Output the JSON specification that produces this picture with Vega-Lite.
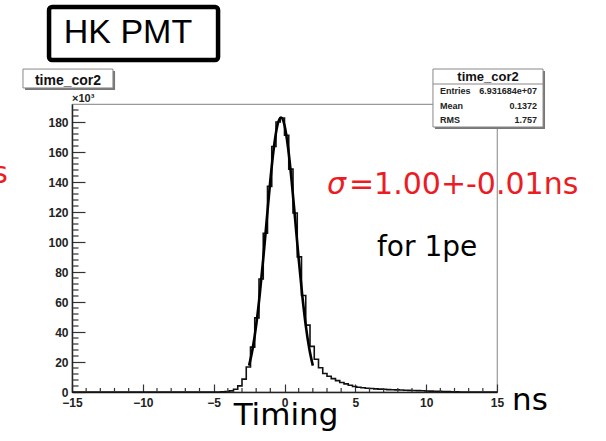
{
  "$schema": "https://vega.github.io/schema/vega-lite/v6.json",
  "width": 425,
  "height": 288,
  "autosize": "none",
  "padding": {"left": 72, "top": 104, "right": 109, "bottom": 49},
  "background": "white",
  "config": {
    "view": {"stroke": "#999", "strokeWidth": 1.2},
    "axis": {"labelOverlap": false, "labelFlush": false, "labelBound": false, "grid": false, "title": null}
  },
  "datasets": {
    "hist": [
      {"x": -15, "y": 0}, {"x": -14.85, "y": 0}, {"x": -14.55, "y": 0}, {"x": -14.25, "y": 0}, {"x": -13.95, "y": 0}, {"x": -13.65, "y": 0},
      {"x": -13.35, "y": 0}, {"x": -13.05, "y": 0}, {"x": -12.75, "y": 0}, {"x": -12.45, "y": 0}, {"x": -12.15, "y": 0},
      {"x": -11.85, "y": 0}, {"x": -11.55, "y": 0}, {"x": -11.25, "y": 0}, {"x": -10.95, "y": 0}, {"x": -10.65, "y": 0},
      {"x": -10.35, "y": 0}, {"x": -10.05, "y": 0}, {"x": -9.75, "y": 0}, {"x": -9.45, "y": 0}, {"x": -9.15, "y": 0},
      {"x": -8.85, "y": 0}, {"x": -8.55, "y": 0}, {"x": -8.25, "y": 0}, {"x": -7.95, "y": 0}, {"x": -7.65, "y": 0},
      {"x": -7.35, "y": 0}, {"x": -7.05, "y": 0}, {"x": -6.75, "y": 0}, {"x": -6.45, "y": 0}, {"x": -6.15, "y": 0},
      {"x": -5.85, "y": 0}, {"x": -5.55, "y": 0}, {"x": -5.25, "y": 0.01}, {"x": -4.95, "y": 0.02}, {"x": -4.65, "y": 0.05},
      {"x": -4.35, "y": 0.1}, {"x": -4.05, "y": 0.3}, {"x": -3.75, "y": 0.75}, {"x": -3.45, "y": 1.8}, {"x": -3.15, "y": 4.1},
      {"x": -2.85, "y": 8.6}, {"x": -2.55, "y": 16.7}, {"x": -2.25, "y": 29.9}, {"x": -1.95, "y": 49.4}, {"x": -1.65, "y": 75.3},
      {"x": -1.35, "y": 105.8}, {"x": -1.05, "y": 137.1}, {"x": -0.75, "y": 163.7}, {"x": -0.45, "y": 180.0}, {"x": -0.15, "y": 182.7},
      {"x": 0.15, "y": 171.2}, {"x": 0.45, "y": 148.6}, {"x": 0.75, "y": 119.3}, {"x": 1.05, "y": 90.1}, {"x": 1.35, "y": 64.3},
      {"x": 1.65, "y": 44.6}, {"x": 1.95, "y": 30.4}, {"x": 2.25, "y": 21.8}, {"x": 2.55, "y": 16.2}, {"x": 2.85, "y": 12.3},
      {"x": 3.15, "y": 10.5}, {"x": 3.45, "y": 8.9}, {"x": 3.75, "y": 7.6}, {"x": 4.05, "y": 6.3}, {"x": 4.35, "y": 5.4},
      {"x": 4.65, "y": 4.5}, {"x": 4.95, "y": 3.7}, {"x": 5.25, "y": 3.2}, {"x": 5.55, "y": 2.8}, {"x": 5.85, "y": 2.5},
      {"x": 6.15, "y": 2.3}, {"x": 6.45, "y": 2.1}, {"x": 6.75, "y": 1.9}, {"x": 7.05, "y": 1.8}, {"x": 7.35, "y": 1.6},
      {"x": 7.65, "y": 1.5}, {"x": 7.95, "y": 1.4}, {"x": 8.25, "y": 1.3}, {"x": 8.55, "y": 1.2}, {"x": 8.85, "y": 1.1},
      {"x": 9.15, "y": 1.0}, {"x": 9.45, "y": 0.9}, {"x": 9.75, "y": 0.8}, {"x": 10.05, "y": 0.7}, {"x": 10.35, "y": 0.6},
      {"x": 10.65, "y": 0.5}, {"x": 10.95, "y": 0.4}, {"x": 11.25, "y": 0.3}, {"x": 11.55, "y": 0.25}, {"x": 11.85, "y": 0.2},
      {"x": 12.15, "y": 0.1}, {"x": 12.45, "y": 0.05}, {"x": 12.75, "y": 0}, {"x": 13.05, "y": 0}, {"x": 13.35, "y": 0},
      {"x": 13.65, "y": 0}, {"x": 13.95, "y": 0}, {"x": 14.25, "y": 0}, {"x": 14.55, "y": 0}, {"x": 14.85, "y": 0}, {"x": 15, "y": 0}
    ],
    "fit": [
      {"x": -2.5, "y": 17.6}, {"x": -2.25, "y": 28.8}, {"x": -2.0, "y": 44.4}, {"x": -1.75, "y": 64.7},
      {"x": -1.5, "y": 88.9}, {"x": -1.25, "y": 115.2}, {"x": -1.0, "y": 141.1}, {"x": -0.75, "y": 163.0}, {"x": -0.5, "y": 177.8},
      {"x": -0.25, "y": 183.0}, {"x": 0.0, "y": 177.8}, {"x": 0.25, "y": 163.0}, {"x": 0.5, "y": 141.1}, {"x": 0.75, "y": 115.2},
      {"x": 1.0, "y": 88.9}, {"x": 1.25, "y": 64.7}, {"x": 1.5, "y": 44.4}, {"x": 1.75, "y": 28.8}, {"x": 2.0, "y": 17.6}
    ],
    "xminor": [
      {"v": -14}, {"v": -13}, {"v": -12}, {"v": -11}, {"v": -9}, {"v": -8}, {"v": -7}, {"v": -6},
      {"v": -4}, {"v": -3}, {"v": -2}, {"v": -1}, {"v": 1}, {"v": 2}, {"v": 3}, {"v": 4},
      {"v": 6}, {"v": 7}, {"v": 8}, {"v": 9}, {"v": 11}, {"v": 12}, {"v": 13}, {"v": 14}
    ],
    "yminor": [
      {"v": 4}, {"v": 8}, {"v": 12}, {"v": 16}, {"v": 24}, {"v": 28}, {"v": 32}, {"v": 36},
      {"v": 44}, {"v": 48}, {"v": 52}, {"v": 56}, {"v": 64}, {"v": 68}, {"v": 72}, {"v": 76},
      {"v": 84}, {"v": 88}, {"v": 92}, {"v": 96}, {"v": 104}, {"v": 108}, {"v": 112}, {"v": 116},
      {"v": 124}, {"v": 128}, {"v": 132}, {"v": 136}, {"v": 144}, {"v": 148}, {"v": 152}, {"v": 156},
      {"v": 164}, {"v": 168}, {"v": 172}, {"v": 176}, {"v": 184}, {"v": 188}
    ]
  },
  "layer": [
    {
      "data": {"name": "hist"},
      "mark": {"type": "line", "interpolate": "step", "color": "#111", "strokeWidth": 1.6, "clip": false},
      "encoding": {
        "x": {
          "field": "x", "type": "quantitative",
          "scale": {"domain": [-15, 15], "nice": false, "zero": false},
          "axis": {
            "title": null, "grid": false,
            "values": [-15,-10,-5,0,5,10,15], "tickCount": 40,
            "labelFont": "Liberation Sans", "labelFontWeight": "bold", "labelFontSize": 12, "labelColor": "#222",
            "labelPadding": 13, "labelFlush": false, "labelOverlap": false,
            "tickColor": "#333", "tickWidth": 1.2, "tickSize": -8,
            "domainColor": "#222", "domainWidth": 1.5
          }
        },
        "y": {
          "field": "y", "type": "quantitative",
          "scale": {"domain": [0, 192], "nice": false, "zero": true},
          "axis": {
            "title": null, "grid": false,
            "values": [0,20,40,60,80,100,120,140,160,180], "tickCount": 40,
            "labelFont": "Liberation Sans", "labelFontWeight": "bold", "labelFontSize": 12, "labelColor": "#222",
            "labelPadding": 17, "labelFlush": false, "labelOverlap": false,
            "tickColor": "#333", "tickWidth": 1.2, "tickSize": -13,
            "domainColor": "#222", "domainWidth": 1.5
          }
        }
      }
    },
    {
      "data": {"name": "xminor"},
      "mark": {"type": "rule", "stroke": "#333", "strokeWidth": 1.2, "clip": false},
      "encoding": {
        "x": {"field": "v", "type": "quantitative"},
        "y": {"datum": 0, "type": "quantitative"}, "y2": {"datum": 2.7}
      }
    },
    {
      "data": {"name": "yminor"},
      "mark": {"type": "rule", "stroke": "#333", "strokeWidth": 1.2, "clip": false},
      "encoding": {
        "y": {"field": "v", "type": "quantitative"},
        "x": {"datum": -15, "type": "quantitative"}, "x2": {"datum": -14.54}
      }
    },
    {
      "data": {"name": "fit"},
      "mark": {"type": "line", "interpolate": "monotone", "color": "#000", "strokeWidth": 2.6, "clip": false},
      "encoding": {
        "x": {"field": "x", "type": "quantitative"},
        "y": {"field": "y", "type": "quantitative"}
      }
    },
    {
      "data": {"values": [{}]},
      "mark": {"type": "rect", "fill": "white", "stroke": "#000", "strokeWidth": 4.5, "cornerRadius": 3, "clip": false},
      "encoding": {
        "x": {"datum": -16.62, "type": "quantitative"}, "x2": {"datum": -4.69},
        "y": {"datum": 256.7, "type": "quantitative"}, "y2": {"datum": 221.3}
      }
    },
    {
      "data": {"values": [{}]},
      "mark": {"type": "text", "text": "HK PMT", "font": "Liberation Sans", "fontSize": 34, "align": "center", "baseline": "alphabetic", "color": "#000", "clip": false},
      "encoding": {
        "x": {"datum": -11.05, "type": "quantitative"},
        "y": {"datum": 232.7, "type": "quantitative"}
      }
    },
    {
      "data": {"values": [{}]},
      "mark": {"type": "rect", "fill": "#777", "clip": false},
      "encoding": {
        "x": {"datum": -18.32, "type": "quantitative"}, "x2": {"datum": -11.96},
        "y": {"datum": 214.0, "type": "quantitative"}, "y2": {"datum": 201.3}
      }
    },
    {
      "data": {"values": [{}]},
      "mark": {"type": "rect", "fill": "white", "stroke": "#888", "strokeWidth": 1, "clip": false},
      "encoding": {
        "x": {"datum": -18.46, "type": "quantitative"}, "x2": {"datum": -12.11},
        "y": {"datum": 215.3, "type": "quantitative"}, "y2": {"datum": 202.7}
      }
    },
    {
      "data": {"values": [{}]},
      "mark": {"type": "text", "text": "time_cor2", "font": "Liberation Sans", "fontWeight": "bold", "fontSize": 14, "align": "center", "baseline": "alphabetic", "color": "#111", "clip": false},
      "encoding": {
        "x": {"datum": -15.28, "type": "quantitative"},
        "y": {"datum": 205.0, "type": "quantitative"}
      }
    },
    {
      "data": {"values": [{}]},
      "mark": {"type": "text", "text": "×10³", "font": "Liberation Sans", "fontWeight": "bold", "fontSize": 11, "align": "left", "baseline": "alphabetic", "color": "#222", "clip": false},
      "encoding": {
        "x": {"datum": -15.0, "type": "quantitative"},
        "y": {"datum": 193.3, "type": "quantitative"}
      }
    },
    {
      "data": {"values": [{}]},
      "mark": {"type": "rect", "fill": "#777", "clip": false},
      "encoding": {
        "x": {"datum": 10.62, "type": "quantitative"}, "x2": {"datum": 18.39},
        "y": {"datum": 214.0, "type": "quantitative"}, "y2": {"datum": 175.33}
      }
    },
    {
      "data": {"values": [{}]},
      "mark": {"type": "rect", "fill": "white", "stroke": "#888", "strokeWidth": 1, "clip": false},
      "encoding": {
        "x": {"datum": 10.48, "type": "quantitative"}, "x2": {"datum": 18.25},
        "y": {"datum": 215.33, "type": "quantitative"}, "y2": {"datum": 176.67}
      }
    },
    {
      "data": {"values": [{}]},
      "mark": {"type": "rule", "stroke": "#888", "strokeWidth": 1, "clip": false},
      "encoding": {
        "x": {"datum": 10.48, "type": "quantitative"}, "x2": {"datum": 18.25},
        "y": {"datum": 205.33, "type": "quantitative"}
      }
    },
    {
      "data": {"values": [{}]},
      "mark": {"type": "text", "text": "time_cor2", "font": "Liberation Sans", "fontWeight": "bold", "fontSize": 13, "align": "center", "baseline": "alphabetic", "color": "#111", "clip": false},
      "encoding": {
        "x": {"datum": 14.37, "type": "quantitative"},
        "y": {"datum": 207.5, "type": "quantitative"}
      }
    },
    {
      "data": {"values": [{}]},
      "mark": {"type": "text", "text": "Entries", "font": "Liberation Sans", "fontWeight": "bold", "fontSize": 9, "align": "left", "baseline": "alphabetic", "color": "#222", "clip": false},
      "encoding": {"x": {"datum": 10.98, "type": "quantitative"}, "y": {"datum": 198.7, "type": "quantitative"}}
    },
    {
      "data": {"values": [{}]},
      "mark": {"type": "text", "text": "6.931684e+07", "font": "Liberation Sans", "fontWeight": "bold", "fontSize": 9, "align": "right", "baseline": "alphabetic", "color": "#222", "clip": false},
      "encoding": {"x": {"datum": 17.82, "type": "quantitative"}, "y": {"datum": 198.7, "type": "quantitative"}}
    },
    {
      "data": {"values": [{}]},
      "mark": {"type": "text", "text": "Mean", "font": "Liberation Sans", "fontWeight": "bold", "fontSize": 9, "align": "left", "baseline": "alphabetic", "color": "#222", "clip": false},
      "encoding": {"x": {"datum": 10.98, "type": "quantitative"}, "y": {"datum": 188.7, "type": "quantitative"}}
    },
    {
      "data": {"values": [{}]},
      "mark": {"type": "text", "text": "0.1372", "font": "Liberation Sans", "fontWeight": "bold", "fontSize": 9, "align": "right", "baseline": "alphabetic", "color": "#222", "clip": false},
      "encoding": {"x": {"datum": 17.82, "type": "quantitative"}, "y": {"datum": 188.7, "type": "quantitative"}}
    },
    {
      "data": {"values": [{}]},
      "mark": {"type": "text", "text": "RMS", "font": "Liberation Sans", "fontWeight": "bold", "fontSize": 9, "align": "left", "baseline": "alphabetic", "color": "#222", "clip": false},
      "encoding": {"x": {"datum": 10.98, "type": "quantitative"}, "y": {"datum": 179.3, "type": "quantitative"}}
    },
    {
      "data": {"values": [{}]},
      "mark": {"type": "text", "text": "1.757", "font": "Liberation Sans", "fontWeight": "bold", "fontSize": 9, "align": "right", "baseline": "alphabetic", "color": "#222", "clip": false},
      "encoding": {"x": {"datum": 17.82, "type": "quantitative"}, "y": {"datum": 179.3, "type": "quantitative"}}
    },
    {
      "data": {"values": [{}]},
      "mark": {"type": "text", "text": "σ", "font": "DejaVu Sans", "fontStyle": "italic", "fontSize": 30, "align": "left", "baseline": "alphabetic", "color": "#ec1c24", "clip": false},
      "encoding": {"x": {"datum": 3.0, "type": "quantitative"}, "y": {"datum": 132.0, "type": "quantitative"}}
    },
    {
      "data": {"values": [{}]},
      "mark": {"type": "text", "text": "=1.00+-0.01ns", "font": "DejaVu Sans", "fontSize": 30, "align": "left", "baseline": "alphabetic", "color": "#ec1c24", "clip": false},
      "encoding": {"x": {"datum": 4.55, "type": "quantitative"}, "y": {"datum": 132.0, "type": "quantitative"}}
    },
    {
      "data": {"values": [{}]},
      "mark": {"type": "text", "text": "ns", "font": "DejaVu Sans", "fontSize": 30, "align": "right", "baseline": "alphabetic", "color": "#ec1c24", "clip": false},
      "encoding": {"x": {"datum": -19.52, "type": "quantitative"}, "y": {"datum": 139.3, "type": "quantitative"}}
    },
    {
      "data": {"values": [{}]},
      "mark": {"type": "text", "text": "for 1pe", "font": "DejaVu Sans", "fontSize": 28, "align": "left", "baseline": "alphabetic", "color": "#000", "clip": false},
      "encoding": {"x": {"datum": 6.53, "type": "quantitative"}, "y": {"datum": 90.7, "type": "quantitative"}}
    },
    {
      "data": {"values": [{}]},
      "mark": {"type": "text", "text": "Timing", "font": "DejaVu Sans", "fontSize": 31, "align": "center", "baseline": "alphabetic", "color": "#000", "clip": false},
      "encoding": {"x": {"datum": 0.106, "type": "quantitative"}, "y": {"datum": -22.0, "type": "quantitative"}}
    },
    {
      "data": {"values": [{}]},
      "mark": {"type": "text", "text": "ns", "font": "DejaVu Sans", "fontSize": 31, "align": "left", "baseline": "alphabetic", "color": "#000", "clip": false},
      "encoding": {"x": {"datum": 16.06, "type": "quantitative"}, "y": {"datum": -12.0, "type": "quantitative"}}
    }
  ]
}
